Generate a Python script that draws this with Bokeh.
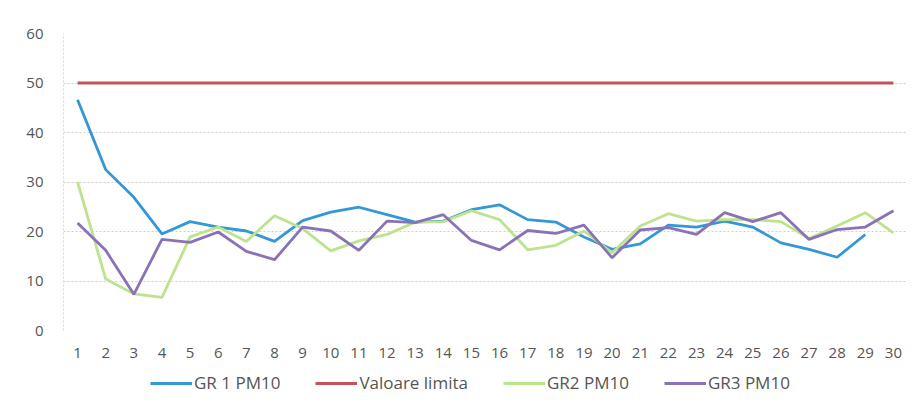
from bokeh.plotting import figure
from bokeh.layouts import column
from bokeh.models import Legend, LegendItem, Range1d, FixedTicker
from bokeh.embed import file_html
from bokeh.resources import INLINE

days = list(range(1, 31))
gr1 = [46.6, 32.5, 26.9, 19.5, 22.0, 20.9, 20.1, 18.0, 22.2, 23.9, 24.9, 23.4, 21.9, 22.1, 24.4,
       25.4, 22.4, 21.9, 18.9, 16.4, 17.5, 21.3, 20.9, 22.1, 20.9, 17.7, 16.4, 14.8, 19.4]
limit = [50] * 30
gr2 = [30.0, 10.4, 7.4, 6.7, 18.9, 20.9, 18.0, 23.2, 20.6, 16.1, 18.1, 19.4, 21.9, 22.0, 24.2,
       22.4, 16.3, 17.2, 20.1, 15.7, 21.1, 23.6, 22.1, 22.4, 22.4, 22.0, 18.6, 21.1, 23.8, 19.7]
gr3 = [21.7, 16.2, 7.3, 18.4, 17.8, 19.9, 16.0, 14.3, 20.9, 20.1, 16.2, 22.1, 21.8, 23.4, 18.2,
       16.3, 20.2, 19.6, 21.3, 14.7, 20.3, 20.8, 19.4, 23.8, 22.0, 23.8, 18.4, 20.4, 20.9, 24.2]
y_ticks = [0, 10, 20, 30, 40, 50, 60]
series_names = ["GR 1 PM10", "Valoare limita", "GR2 PM10", "GR3 PM10"]
colors = ["#3398d6", "#c4545a", "#bde38e", "#8a72b8"]
series = [(days[:len(gr1)], gr1), (days, limit), (days, gr2), (days, gr3)]

font = "Open Sans"

p = figure(frame_width=844, frame_height=297, output_backend="svg", toolbar_location=None,
           x_range=Range1d(0.5, 30.5), y_range=Range1d(0, 60),
           min_border_left=63, min_border_right=13, min_border_top=33, min_border_bottom=0)
p.outline_line_color = None
p.background_fill_color = "white"
p.border_fill_color = "white"

for (xs, ys), c in zip(series, colors):
    p.line(xs, ys, line_color=c, line_width=2.8)

p.xaxis.ticker = FixedTicker(ticks=days)
p.yaxis.ticker = FixedTicker(ticks=y_ticks)
for ax in (p.xaxis[0], p.yaxis[0]):
    ax.major_tick_line_color = None
    ax.minor_tick_line_color = None
    ax.major_label_text_font = font
    ax.major_label_text_color = "#555555"
p.xaxis.axis_line_color = None
p.yaxis.axis_line_color = "#d8d8d8"
p.yaxis.axis_line_dash = "2 2"
p.xaxis.major_label_text_font_size = "15px"
p.yaxis.major_label_text_font_size = "15px"
p.xaxis.major_label_standoff = 11
p.yaxis.major_label_standoff = 14

p.xgrid.grid_line_color = None
p.ygrid.grid_line_color = "#cfcfcf"
p.ygrid.grid_line_dash = "2 2"

# Legend strip below the chart (same series, drawn out of view so only the key shows)
lf = figure(frame_width=844, frame_height=42, output_backend="svg", toolbar_location=None,
            x_range=Range1d(0.5, 30.5), y_range=Range1d(1000, 1001),
            x_axis_location=None, y_axis_location=None,
            min_border_left=63, min_border_right=13, min_border_top=0, min_border_bottom=0)
lf.outline_line_color = None
lf.grid.visible = False
lf.border_fill_color = "white"
rs = [lf.line(xs, ys, line_color=c, line_width=2.8) for (xs, ys), c in zip(series, colors)]
legend = Legend(items=[LegendItem(label=n, renderers=[r]) for n, r in zip(series_names, rs)],
                orientation="horizontal", location=(87, 8),
                label_text_font=font, label_text_font_size="17px", label_text_color="#555555",
                glyph_width=42, glyph_height=20, spacing=35, border_line_color=None,
                background_fill_alpha=0, padding=0, margin=0, label_standoff=2)
lf.add_layout(legend)

open("out.html", "w").write(file_html(column(p, lf, spacing=0), INLINE))
